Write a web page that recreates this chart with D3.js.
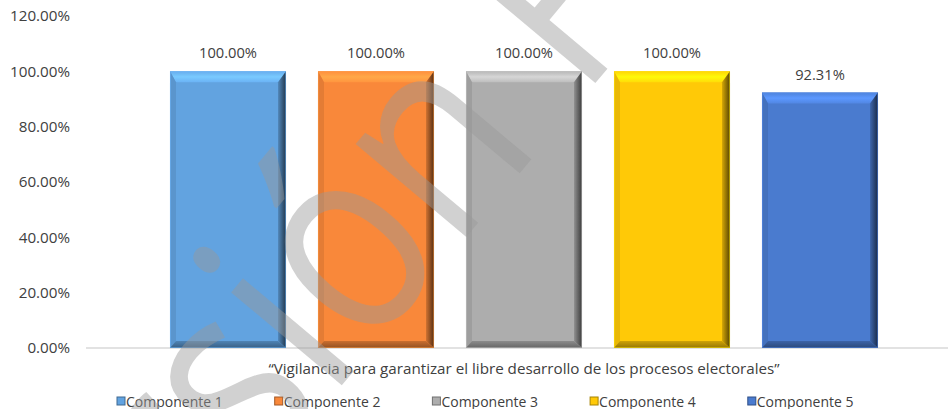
<!DOCTYPE html>
<html>
<head>
<meta charset="utf-8">
<script src="https://cdn.jsdelivr.net/npm/d3@7"></script>
<style>
  html, body { margin: 0; padding: 0; background: #fff; }
  svg { display: block; font-family: "Open Sans", sans-serif; }
</style>
</head>
<body>
<svg id="chart" width="948" height="409"></svg>
<script>
// datos
const categoria = '\u201CVigilancia para garantizar el libre desarrollo de los procesos electorales\u201D';
const series  = ['Componente 1', 'Componente 2', 'Componente 3', 'Componente 4', 'Componente 5'];
const valores = [1.0, 1.0, 1.0, 1.0, 0.9231];
const colores = ['#62a3e0', '#f9883a', '#adadad', '#ffc907', '#4a7bcf'];
const yTicks  = [0, 0.2, 0.4, 0.6, 0.8, 1.0, 1.2];
const marca   = ['Versi', 'ó', 'n Pública'];

const W = 948, H = 409;
const margin = { top: 16, right: 0, bottom: 61, left: 86 };
const svg = d3.select('#chart');
const defs = svg.append('defs');

const y = d3.scaleLinear().domain([0, 1.2]).range([H - margin.bottom, margin.top]);
const x = d3.scaleBand().domain(series).range([154, 894]).paddingInner(0.216).paddingOuter(0.108);

// eje y (sin línea ni marcas)
svg.append('g')
  .attr('transform', `translate(${margin.left},0)`)
  .call(d3.axisLeft(y).tickValues(yTicks).tickFormat(d3.format('.2%')).tickSize(0).tickPadding(16))
  .call(g => g.select('.domain').remove())
  .call(g => g.selectAll('text').attr('font-size', 15.2).attr('fill', '#404040').attr('font-family', '"Open Sans", sans-serif'));

// línea base
svg.append('line')
  .attr('x1', margin.left).attr('x2', W)
  .attr('y1', y(0)).attr('y2', y(0))
  .attr('stroke', '#d9d9d9').attr('stroke-width', 1.3);

// barras con bisel
const bev = { t: 11, b: 7, l: 6, r: 8 };
series.forEach((s, i) => {
  const c = d3.color(colores[i]);
  const gr = defs.append('linearGradient').attr('id', 'gr' + i).attr('x1', 0).attr('x2', 1).attr('y1', 0).attr('y2', 0);
  gr.append('stop').attr('offset', 0).attr('stop-color', c.darker(0.5));
  gr.append('stop').attr('offset', 1).attr('stop-color', c.darker(3));
  const gt = defs.append('linearGradient').attr('id', 'gt' + i).attr('x1', 0).attr('x2', 0).attr('y1', 0).attr('y2', 1);
  gt.append('stop').attr('offset', 0).attr('stop-color', c.brighter(0.15));
  gt.append('stop').attr('offset', 0.5).attr('stop-color', c.brighter(0.6));
  gt.append('stop').attr('offset', 1).attr('stop-color', c.brighter(0.25));
  const gb = defs.append('linearGradient').attr('id', 'gb' + i).attr('x1', 0).attr('x2', 0).attr('y1', 0).attr('y2', 1);
  gb.append('stop').attr('offset', 0).attr('stop-color', c.darker(0.6));
  gb.append('stop').attr('offset', 1).attr('stop-color', c.darker(1.5));
});

const bars = svg.append('g').selectAll('g').data(series).join('g');
bars.each(function (s, i) {
  const g = d3.select(this);
  const x0 = x(s), x1 = x(s) + x.bandwidth();
  const y0 = y(valores[i]), y1 = y(0);
  const c = d3.color(colores[i]);
  g.append('rect').attr('x', x0).attr('y', y0).attr('width', x1 - x0).attr('height', y1 - y0).attr('fill', c);
  const poly = (pts, fill) => g.append('polygon').attr('points', pts.map(p => p.join(',')).join(' ')).attr('fill', fill);
  poly([[x0, y0], [x1, y0], [x1 - bev.r, y0 + bev.t], [x0 + bev.l, y0 + bev.t]], `url(#gt${i})`);
  poly([[x0, y0], [x0 + bev.l, y0 + bev.t], [x0 + bev.l, y1 - bev.b], [x0, y1]], c.darker(0.25));
  poly([[x1, y0], [x1, y1], [x1 - bev.r, y1 - bev.b], [x1 - bev.r, y0 + bev.t]], `url(#gr${i})`);
  poly([[x0, y1], [x0 + bev.l, y1 - bev.b], [x1 - bev.r, y1 - bev.b], [x1, y1]], `url(#gb${i})`);
  g.append('rect').attr('x', x0 + 0.5).attr('y', y0 + 0.5).attr('width', x1 - x0 - 1).attr('height', y1 - y0 - 1)
    .attr('fill', 'none').attr('stroke', c.brighter(0.4)).attr('stroke-opacity', 0.5);
});

// etiquetas de datos
svg.append('g').selectAll('text').data(series).join('text')
  .attr('x', s => x(s) + x.bandwidth() / 2)
  .attr('y', (s, i) => y(valores[i]) - 13)
  .attr('text-anchor', 'middle')
  .attr('font-size', 14.7).attr('fill', '#404040')
  .text((s, i) => d3.format('.2%')(valores[i]));

// título de categoría
svg.append('text')
  .attr('x', (x(series[0]) + x(series[4]) + x.bandwidth()) / 2)
  .attr('y', 374)
  .attr('text-anchor', 'middle')
  .attr('font-size', 15.2).attr('fill', '#404040')
  .text(categoria);

// leyenda
const leg = svg.append('g').selectAll('g').data(series).join('g')
  .attr('transform', (s, i) => `translate(${117 + i * 157.7},397)`);
leg.append('rect').attr('width', 8).attr('height', 8).attr('fill', (s, i) => colores[i])
  .attr('stroke', (s, i) => d3.color(colores[i]).darker(1.2)).attr('stroke-width', 1);
leg.append('text').attr('x', 9).attr('y', 9.5).attr('font-size', 14).attr('fill', '#404040').text(s => s);

// marca de agua
const wm = svg.append('g')
  .attr('transform', 'translate(410,304) rotate(-50) scale(0.84,1)')
  .attr('fill', '#999').attr('fill-opacity', 0.45)
  .attr('font-size', 270).attr('font-family', '"Open Sans", sans-serif');
const oText = wm.append('text').attr('text-anchor', 'middle').text(marca[1]);
const wo = oText.node().getComputedTextLength();
wm.append('text').attr('text-anchor', 'end').attr('x', -wo / 2).text(marca[0]);
wm.append('text').attr('text-anchor', 'start').attr('x', wo / 2).text(marca[2]);
</script>
</body>
</html>
